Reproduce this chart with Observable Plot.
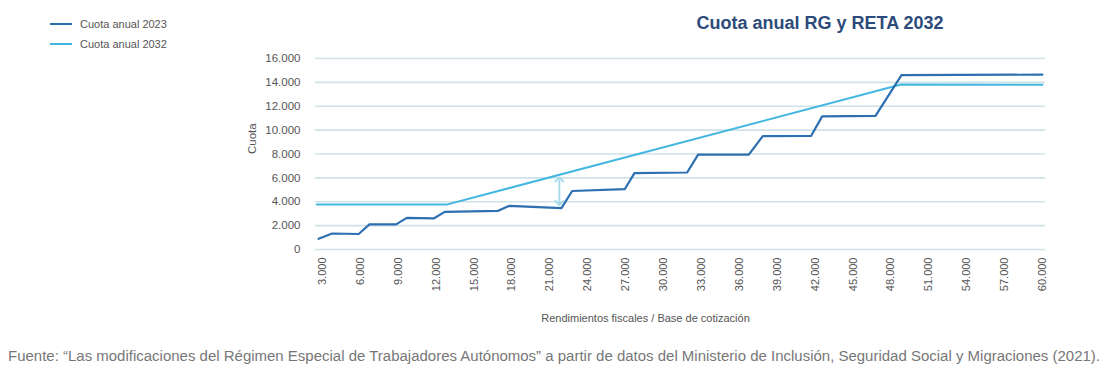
<!DOCTYPE html>
<html>
<head>
<meta charset="utf-8">
<script src="https://cdn.jsdelivr.net/npm/d3@7"></script>
<script src="https://cdn.jsdelivr.net/npm/@observablehq/plot@0.6"></script>
<style>
  html, body { margin: 0; padding: 0; background: #fff; }
  body { width: 1111px; height: 381px; position: relative; overflow: hidden; font-family: "Liberation Sans", Arial, sans-serif; }
  #chart { position: absolute; left: 0; top: 0; }
</style>
</head>
<body>
<div id="chart"></div>
<svg id="over" width="1111" height="381" style="position:absolute;left:0;top:0;pointer-events:none" xmlns="http://www.w3.org/2000/svg"></svg>
<script>
// ---- data ----
const title = "Cuota anual RG y RETA 2032";
const seriesNames = ["Cuota anual 2023", "Cuota anual 2032"];
const x2023 = [2700, 3770, 5870, 6720, 8830, 9675, 11810, 12680, 16910, 17800, 21920, 22770, 26930, 27700, 31870, 32740, 36750, 37860, 41690, 42560, 46780, 48840, 60000];
const y2023 = [900, 1340, 1300, 2100, 2100, 2650, 2600, 3150, 3240, 3660, 3460, 4900, 5050, 6400, 6450, 7950, 7950, 9500, 9525, 11150, 11200, 14600, 14650];
const x2032 = [2550, 12900, 48800, 60000];
const y2032 = [3780, 3780, 13820, 13800];
const arrowX = [21750];
const arrowTop = [5860];
const arrowBottom = [3900];
const xTicks = [3000, 6000, 9000, 12000, 15000, 18000, 21000, 24000, 27000, 30000, 33000, 36000, 39000, 42000, 45000, 48000, 51000, 54000, 57000, 60000];
const yTicks = [0, 2000, 4000, 6000, 8000, 10000, 12000, 14000, 16000];
const xLabel = "Rendimientos fiscales / Base de cotización";
const yLabel = "Cuota";
const caption = "Fuente: \u201CLas modificaciones del Régimen Especial de Trabajadores Autónomos\u201D a partir de datos del Ministerio de Inclusión, Seguridad Social y Migraciones (2021).";

const dark = "#2d6fb0";
const light = "#44b7e0";
const grid = "#cfe2e8";
const fmt = d => d3.format(",")(d).replace(/,/g, ".");

const d2023 = x2023.map((x, i) => ({x, y: y2023[i]}));
const d2032 = x2032.map((x, i) => ({x, y: y2032[i]}));
// double-headed arrow: two halves from the middle, each with an end head
const arrowHalves = arrowX.flatMap((x, i) => {
  const mid = (arrowTop[i] + arrowBottom[i]) / 2;
  return [{x, y1: mid, y2: arrowTop[i]}, {x, y1: mid, y2: arrowBottom[i]}];
});

const chart = Plot.plot({
  width: 1111,
  height: 381,
  marginLeft: 315,
  marginRight: 66,
  marginTop: 58,
  marginBottom: 132,
  style: {fontFamily: "'Liberation Sans', Arial, sans-serif", fontSize: "11px", color: "#555", background: "#fff"},
  x: {type: "linear", domain: [2450, 60240]},
  y: {domain: [0, 16000]},
  marks: [
    Plot.ruleY(yTicks, {stroke: grid, strokeWidth: 1.6}),
    Plot.line(d2032, {x: "x", y: "y", stroke: light, strokeWidth: 2}),
    Plot.line(d2023, {x: "x", y: "y", stroke: dark, strokeWidth: 2.2}),
    Plot.link(arrowHalves, {x1: "x", x2: "x", y1: "y1", y2: "y2", stroke: "#a9dcea", strokeWidth: 2, markerEnd: "arrow"}),
    Plot.axisX({ticks: xTicks, tickFormat: fmt, tickRotate: -90, tickSize: 0, tickPadding: 8, label: null, fill: "#555"}),
    Plot.axisY({ticks: yTicks, tickFormat: fmt, tickSize: 0, tickPadding: 15, label: null, fill: "#555", fontSize: 11.5}),
    Plot.text([yLabel], {frameAnchor: "left", dx: -63, rotate: -90, text: d => d, fill: "#555", fontSize: 11.5}),
    Plot.text([xLabel], {frameAnchor: "bottom", dx: -35, dy: 72, text: d => d, fill: "#555", fontSize: 11})
  ]
});
document.getElementById("chart").appendChild(chart);

// ---- overlays: title, legend, caption ----
const ns = "http://www.w3.org/2000/svg";
const over = document.getElementById("over");
function el(tag, attrs, text) {
  const e = document.createElementNS(ns, tag);
  for (const k in attrs) e.setAttribute(k, attrs[k]);
  if (text != null) e.textContent = text;
  over.appendChild(e);
  return e;
}
el("text", {x: 820, y: 29, "text-anchor": "middle", "font-family": "'Liberation Sans', Arial, sans-serif", "font-size": 18, "font-weight": "bold", fill: "#2c4b7a"}, title);
[dark, light].forEach((c, i) => {
  const cy = 24 + i * 20;
  el("line", {x1: 50, x2: 72, y1: cy, y2: cy, stroke: c, "stroke-width": 2});
  el("text", {x: 80, y: cy + 4, "font-family": "'Liberation Sans', Arial, sans-serif", "font-size": 11, fill: "#555"}, seriesNames[i]);
});
el("text", {x: 8, y: 361, "font-family": "'Liberation Sans', Arial, sans-serif", "font-size": 14, fill: "#777", textLength: 1092, lengthAdjust: "spacingAndGlyphs"}, caption);
</script>
</body>
</html>
